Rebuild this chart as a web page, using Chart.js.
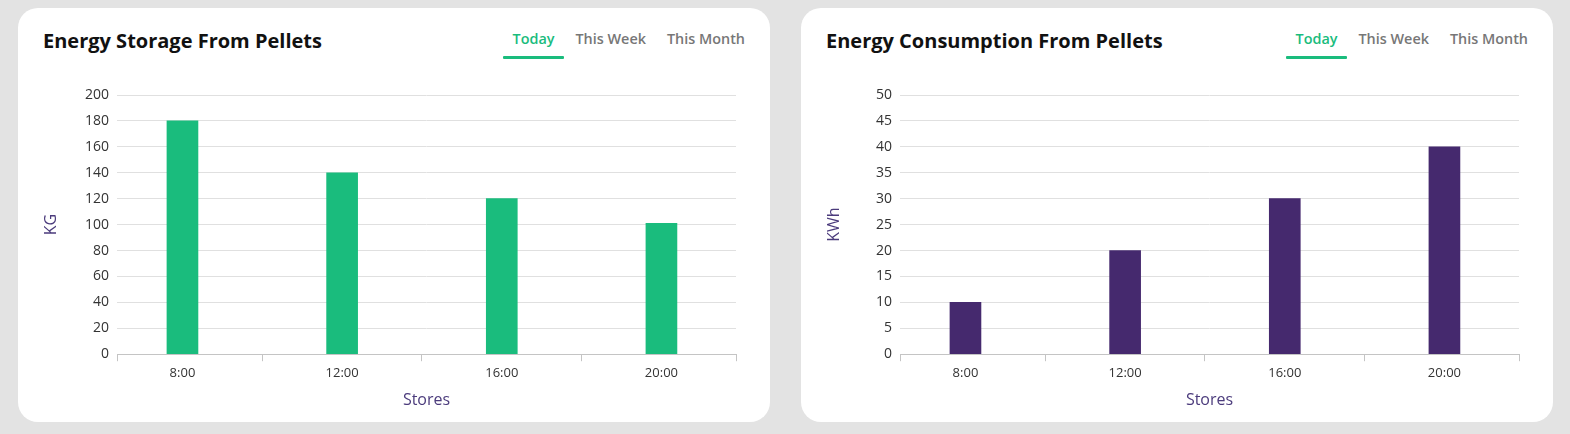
<!DOCTYPE html>
<html>
<head>
<meta charset="utf-8">
<script src="https://cdn.jsdelivr.net/npm/chart.js@4"></script>
<style>
  body { margin: 0; width: 1570px; height: 434px; background: #e3e3e3; font-family: "Open Sans", sans-serif; position: relative; overflow: hidden; }
  .card { position: absolute; top: 8px; width: 752px; height: 414px; background: #fff; border-radius: 20px; }
  .card h2 { position: absolute; left: 25px; top: 19px; margin: 0; font-size: 20px; font-weight: 700; color: #111; }
  .tabs { position: absolute; right: 15px; top: 21px; display: flex; font-size: 14.4px; font-weight: 600; color: #777; }
  .tab { padding: 0 10px 6px; margin-left: 1px; position: relative; }
  .tab.active { color: #1abc7d; }
  .tab.active::after { content: ''; position: absolute; left: 0; right: 0; bottom: -5px; height: 3px; background: #1abc7d; border-radius: 1px; }
  .chart-box { position: absolute; left: 0; top: 62px; width: 752px; height: 352px; }
</style>
</head>
<body>
<div class="card" style="left:18px">
  <h2>Energy Storage From Pellets</h2>
  <div class="tabs"><span class="tab active">Today</span><span class="tab">This Week</span><span class="tab">This Month</span></div>
  <div class="chart-box"><canvas id="storageChart"></canvas></div>
</div>
<div class="card" style="left:801px">
  <h2>Energy Consumption From Pellets</h2>
  <div class="tabs"><span class="tab active">Today</span><span class="tab">This Week</span><span class="tab">This Month</span></div>
  <div class="chart-box"><canvas id="consumptionChart"></canvas></div>
</div>
<script>
// Data
const hours = ['8:00', '12:00', '16:00', '20:00'];
const storageKg = [180, 140, 120, 101];
const consumptionKwh = [10, 20, 30, 40];

const GREEN = '#1abc7d';
const PURPLE = '#45296e';
const TITLE_COLOR = '#4b3b7c';
const AXIS_COLOR = '#c4c4c4';

// x runs on category index; the axis leaves a bit less room before the first bar than after the last
const X_MIN = -0.41;
const X_MAX = hours.length - 1 + 0.467;

function makeBarChart(id, values, color, yTitle, yMax, yStep) {
  const ctx = document.getElementById(id).getContext('2d');
  return new Chart(ctx, {
    type: 'bar',
    data: {
      datasets: [{ data: values.map((v, i) => ({ x: i, y: v })), backgroundColor: color, barThickness: 31 }]
    },
    options: {
      responsive: true,
      maintainAspectRatio: false,
      animation: false,
      layout: { padding: { left: 20, right: 34, top: 25, bottom: 8 } },
      plugins: { legend: { display: false }, tooltip: { enabled: false } },
      scales: {
        x: {
          type: 'linear',
          offset: false,
          min: X_MIN, max: X_MAX,
          afterBuildTicks: scale => {
            const vals = [X_MIN];
            hours.forEach((_, i) => { vals.push(i); if (i < hours.length - 1) vals.push(i + 0.5); });
            vals.push(X_MAX);
            scale.ticks = vals.map(v => ({ value: v }));
          },
          grid: {
            offset: false, drawOnChartArea: false, drawTicks: true, tickLength: 7,
            color: c => (c.tick && Number.isInteger(c.tick.value)) ? 'rgba(0,0,0,0)' : AXIS_COLOR
          },
          border: { color: AXIS_COLOR },
          ticks: {
            autoSkip: false, maxRotation: 0, color: '#333', font: { family: 'Open Sans', size: 13 }, padding: 4,
            callback: v => Number.isInteger(v) ? hours[v] : ''
          },
          title: { display: true, text: 'Stores', color: TITLE_COLOR, font: { family: 'Open Sans', size: 16 }, padding: { top: 6 } }
        },
        y: {
          min: 0, max: yMax,
          afterFit: scale => { scale.width = 79; },  // same axis width on both cards
          grid: { color: '#e0e0e0', drawTicks: false },
          border: { display: false },
          ticks: { stepSize: yStep, color: '#333', font: { family: 'Open Sans', size: 14 }, padding: 8 },
          title: { display: true, text: yTitle, color: TITLE_COLOR, font: { family: 'Open Sans', size: 16 }, padding: { bottom: 16 } }
        }
      }
    }
  });
}

makeBarChart('storageChart', storageKg, GREEN, 'KG', 200, 20);
makeBarChart('consumptionChart', consumptionKwh, PURPLE, 'KWh', 50, 5);
</script>
</body>
</html>
